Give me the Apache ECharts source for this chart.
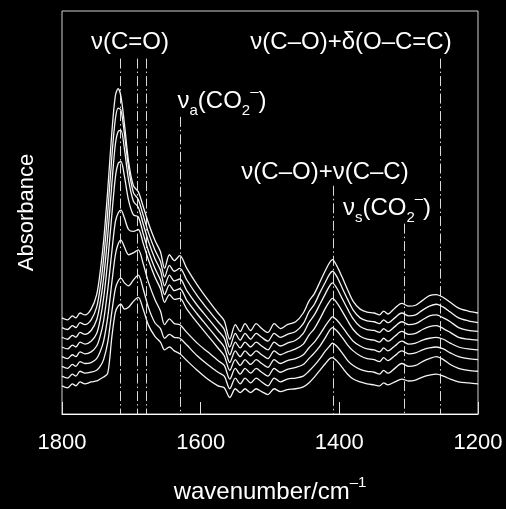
<!DOCTYPE html>
<html>
<head>
<meta charset="utf-8">
<script src="https://cdn.jsdelivr.net/npm/echarts@6/dist/echarts.min.js"></script>
<style>
html, body { margin: 0; padding: 0; background: #000; }
#chart { width: 506px; height: 509px; }
</style>
</head>
<body>
<div id="chart"></div>
<script>
// Wavenumber grid (cm^-1) shared by all spectra
const wavenumbers = [1800,1792,1785,1780,1774,1767,1758,1750,1745,1740,
  1734,1728,1723,1719,1715,1710,1704,1697,1690,1683,
  1675,1666,1658,1652,1645,1638,1630,1620,1605,1590,
  1575,1566,1558,1550,1543,1536,1528,1520,1512,1503,
  1494,1485,1475,1463,1452,1444,1436,1428,1420,1414,
  1410,1404,1396,1388,1380,1370,1360,1350,1342,1336,
  1330,1320,1310,1300,1290,1280,1270,1260,1250,1240,
  1228,1214,1200];

// Stacked absorbance spectra, bottom trace first (offset units)
const spectrum1 = [0.29,0.27,0.31,0.29,0.33,0.31,0.33,0.34,0.36,0.38,
  0.42,0.80,1.05,1.11,1.13,1.08,1.10,1.16,1.20,1.08,
  0.91,0.80,0.74,0.66,0.69,0.65,0.62,0.55,0.45,0.36,
  0.29,0.27,0.17,0.26,0.22,0.26,0.22,0.26,0.23,0.20,
  0.26,0.23,0.25,0.26,0.28,0.32,0.38,0.45,0.52,0.57,
  0.58,0.55,0.48,0.41,0.36,0.33,0.31,0.30,0.29,0.32,
  0.30,0.33,0.36,0.34,0.35,0.38,0.40,0.41,0.39,0.36,
  0.33,0.32,0.31];
const spectrum2 = [0.39,0.37,0.41,0.39,0.44,0.42,0.43,0.45,0.49,0.56,
  0.74,1.06,1.29,1.37,1.40,1.35,1.32,1.38,1.43,1.29,
  1.09,0.94,0.88,0.78,0.82,0.79,0.78,0.71,0.60,0.51,
  0.43,0.39,0.26,0.37,0.31,0.37,0.32,0.37,0.33,0.29,
  0.37,0.33,0.36,0.37,0.39,0.44,0.50,0.57,0.65,0.70,
  0.73,0.70,0.63,0.55,0.50,0.46,0.44,0.43,0.41,0.45,
  0.42,0.47,0.52,0.49,0.50,0.54,0.57,0.59,0.56,0.51,
  0.47,0.45,0.44];
const spectrum3 = [0.49,0.47,0.51,0.49,0.54,0.52,0.53,0.57,0.64,0.75,
  1.00,1.36,1.64,1.75,1.79,1.72,1.64,1.66,1.69,1.55,
  1.35,1.18,1.06,0.92,0.98,0.93,0.92,0.84,0.73,0.64,
  0.55,0.50,0.36,0.47,0.41,0.47,0.42,0.47,0.43,0.39,
  0.47,0.43,0.46,0.48,0.51,0.57,0.63,0.70,0.79,0.86,
  0.89,0.86,0.79,0.71,0.65,0.60,0.57,0.56,0.54,0.58,
  0.55,0.60,0.65,0.62,0.63,0.66,0.68,0.69,0.67,0.63,
  0.59,0.57,0.56];
const spectrum4 = [0.59,0.57,0.61,0.59,0.64,0.62,0.64,0.70,0.80,0.96,
  1.28,1.68,1.98,2.07,2.10,2.02,1.90,1.88,1.90,1.76,
  1.58,1.41,1.29,1.15,1.23,1.18,1.19,1.08,0.94,0.81,
  0.68,0.60,0.45,0.56,0.50,0.56,0.51,0.56,0.52,0.48,
  0.56,0.52,0.55,0.57,0.61,0.68,0.74,0.82,0.91,0.97,
  1.00,0.97,0.90,0.82,0.75,0.70,0.67,0.66,0.64,0.68,
  0.65,0.70,0.75,0.72,0.73,0.76,0.78,0.79,0.77,0.73,
  0.69,0.67,0.66];
const spectrum5 = [0.69,0.67,0.71,0.69,0.74,0.72,0.75,0.83,0.97,1.19,
  1.58,2.06,2.44,2.58,2.60,2.45,2.20,2.05,2.03,1.86,
  1.67,1.50,1.38,1.23,1.33,1.27,1.29,1.17,1.03,0.90,
  0.77,0.69,0.53,0.65,0.59,0.65,0.60,0.65,0.61,0.57,
  0.65,0.61,0.64,0.67,0.72,0.81,0.88,0.98,1.09,1.16,
  1.19,1.15,1.06,0.96,0.87,0.80,0.77,0.76,0.74,0.78,
  0.75,0.80,0.85,0.82,0.83,0.87,0.90,0.91,0.88,0.84,
  0.79,0.77,0.76];
const spectrum6 = [0.79,0.77,0.81,0.79,0.84,0.82,0.86,0.97,1.14,1.40,
  1.84,2.38,2.78,2.91,2.92,2.73,2.41,2.19,2.13,1.96,
  1.77,1.60,1.48,1.32,1.43,1.37,1.39,1.27,1.12,0.99,
  0.86,0.78,0.61,0.74,0.68,0.74,0.69,0.74,0.70,0.66,
  0.74,0.70,0.73,0.76,0.83,0.94,1.02,1.13,1.24,1.32,
  1.35,1.30,1.19,1.08,0.98,0.90,0.87,0.86,0.84,0.88,
  0.85,0.90,0.95,0.92,0.93,0.97,1.01,1.02,0.99,0.95,
  0.89,0.86,0.85];
const spectrum7 = [0.89,0.87,0.91,0.89,0.94,0.92,0.97,1.10,1.30,1.60,
  2.08,2.66,3.04,3.15,3.13,2.89,2.54,2.28,2.21,2.05,
  1.86,1.69,1.57,1.41,1.53,1.47,1.50,1.38,1.22,1.08,
  0.95,0.87,0.69,0.83,0.76,0.83,0.77,0.83,0.79,0.75,
  0.83,0.79,0.82,0.85,0.93,1.05,1.13,1.25,1.36,1.44,
  1.47,1.42,1.30,1.18,1.07,0.99,0.96,0.95,0.93,0.97,
  0.94,0.99,1.04,1.01,1.02,1.07,1.11,1.13,1.10,1.05,
  0.99,0.96,0.94];
const spectrum8 = [0.99,0.97,1.01,0.99,1.04,1.02,1.08,1.23,1.46,1.78,
  2.31,2.91,3.28,3.35,3.27,2.99,2.60,2.35,2.29,2.14,
  1.96,1.79,1.67,1.50,1.64,1.58,1.63,1.50,1.33,1.18,
  1.04,0.96,0.77,0.92,0.85,0.93,0.86,0.93,0.88,0.84,
  0.93,0.88,0.92,0.95,1.04,1.16,1.24,1.36,1.48,1.56,
  1.59,1.53,1.41,1.28,1.16,1.08,1.05,1.04,1.02,1.06,
  1.03,1.09,1.14,1.11,1.12,1.17,1.22,1.23,1.20,1.15,
  1.09,1.06,1.04];

const spectra = [spectrum1, spectrum2, spectrum3, spectrum4,
                 spectrum5, spectrum6, spectrum7, spectrum8];

// Band assignments: marker wavenumbers and the height where each marker starts
const bandPositions = [1716, 1691, 1679, 1630, 1409, 1307, 1254];
const bandTops = [3.66, 3.66, 3.66, 3.06, 2.35, 1.96, 3.66];

const xMin = 1200, xMax = 1800, xStep = 200;

const FONT = '"Liberation Sans", Arial, Helvetica, sans-serif';
const WHITE = '#ffffff';

// Rich-text styles for labels with sub/superscripts
const richStyles = {
  m: { fontSize: 24, fontFamily: FONT, color: WHITE, lineHeight: 34, verticalAlign: 'middle' },
  s: { fontSize: 15, fontFamily: FONT, color: WHITE, lineHeight: 15, verticalAlign: 'bottom' },
  p: { fontSize: 15, fontFamily: FONT, color: WHITE, lineHeight: 15, verticalAlign: 'top' }
};

function label(text, x, y) {
  return {
    type: 'text',
    x: x, y: y,
    silent: true,
    style: {
      text: text,
      rich: richStyles,
      align: 'center',
      verticalAlign: 'middle',
      fill: WHITE,
      font: '24px ' + FONT
    }
  };
}

const chart = echarts.init(document.getElementById('chart'), null, { renderer: 'canvas' });

const series = spectra.map(function (vals, i) {
  const s = {
    type: 'line',
    data: wavenumbers.map(function (w, j) { return [w, vals[j]]; }),
    showSymbol: false,
    smooth: 0.3,
    z: 3,
    lineStyle: { color: '#f4f4f4', width: 1.3 },
    animation: false
  };
  if (i === 0) {
    s.markLine = {
      silent: true,
      symbol: 'none',
      animation: false,
      z: 2,
      label: { show: false },
      emphasis: { disabled: true },
      lineStyle: { color: '#d9d9d9', width: 1, type: [10, 3, 1.5, 3] },
      data: bandPositions.map(function (w, k) {
        return [{ coord: [w, bandTops[k]] }, { coord: [w, 0] }];
      })
    };
  }
  return s;
});

chart.setOption({
  backgroundColor: '#000000',
  animation: false,
  grid: {
    left: 62, top: 11, width: 416, height: 415,
    show: true, borderColor: '#d0d0d0', borderWidth: 1,
    backgroundColor: 'transparent'
  },
  xAxis: {
    type: 'value',
    min: xMin, max: xMax, interval: xStep,
    inverse: true,
    axisLine: { show: true, lineStyle: { color: WHITE, width: 1 } },
    axisTick: { show: true, inside: true, length: 12, lineStyle: { color: '#e0e0e0', width: 1 } },
    axisLabel: {
      color: WHITE, fontSize: 22, fontFamily: FONT, margin: 18,
      formatter: function (v) { return String(v); }
    },
    splitLine: { show: false },
    name: '{m|wavenumber/cm}{p|–1}',
    nameLocation: 'middle',
    nameGap: 61,
    nameTextStyle: { rich: richStyles, color: WHITE, fontSize: 22, fontFamily: FONT }
  },
  yAxis: {
    type: 'value',
    min: 0, max: 4.15,
    axisLine: { show: false },
    axisTick: { show: false },
    axisLabel: { show: false },
    splitLine: { show: false },
    name: 'Absorbance',
    nameLocation: 'middle',
    nameGap: 24,
    nameRotate: 90,
    nameTextStyle: { color: WHITE, fontSize: 22, fontFamily: FONT }
  },
  graphic: [
    label('{m|ν(C=O)}', 130, 42),
    label('{m|ν(C–O)+δ(O–C=C)}', 351, 42),
    label('{m|ν}{s|a}{m|(CO}{s|2}{p|–}{m|)}', 222, 101),
    label('{m|ν(C–O)+ν(C–C)}', 325, 172),
    label('{m|ν}{s|s}{m|(CO}{s|2}{p|–}{m|)}', 387, 208)
  ],
  series: series
});
</script>
</body>
</html>
